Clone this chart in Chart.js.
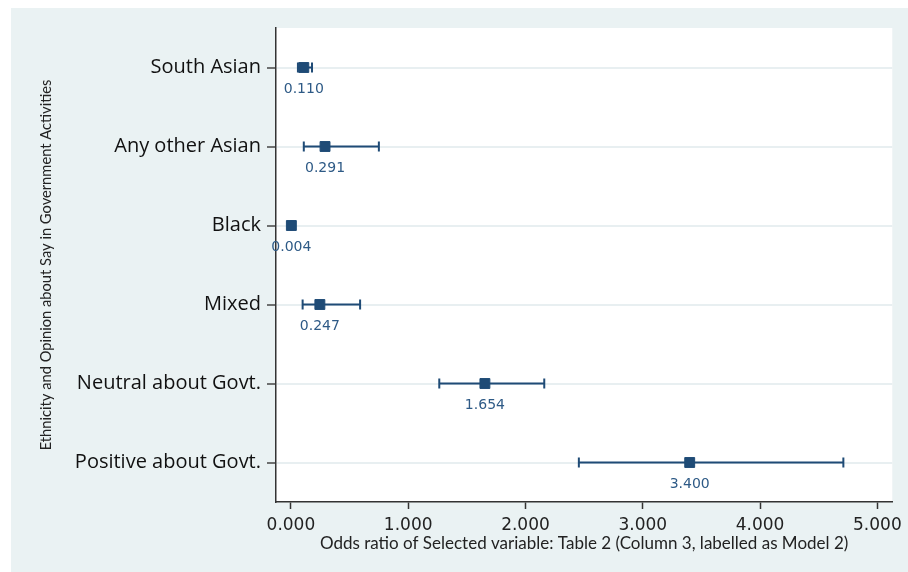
<!DOCTYPE html>
<html>
<head>
<meta charset="utf-8">
<script src="https://cdn.jsdelivr.net/npm/chart.js@4"></script>
<style>
  html, body { margin: 0; padding: 0; background: #ffffff; }
  #wrap { width: 908px; height: 572px; }
</style>
</head>
<body>
<div id="wrap"><canvas id="grafico" width="908" height="572"></canvas></div>
<script>
// Dados
const categorias = ['South Asian', 'Any other Asian', 'Black', 'Mixed', 'Neutral about Govt.', 'Positive about Govt.'];
const oddsRatio = [0.110, 0.291, 0.004, 0.247, 1.654, 3.400];
const icInferior = [0.060, 0.110, 0.001, 0.100, 1.265, 2.455];
const icSuperior = [0.180, 0.750, 0.015, 0.590, 2.160, 4.710];
const ticksX = [0, 1, 2, 3, 4, 5];

const corMarca = '#1f4b76';
const corTexto = '#2e5a86';

// Fundo cinza-azulado + area do grafico branca
const fundoPlugin = {
    id: 'fundo',
    beforeDraw(chart) {
        const c = chart.ctx;
        const a = chart.chartArea;
        c.save();
        c.fillStyle = '#eaf2f3';
        c.fillRect(11, 8, chart.width - 11, chart.height - 8);
        c.fillStyle = '#ffffff';
        c.fillRect(a.left, a.top, a.right - a.left, a.bottom - a.top);
        c.restore();
    }
};

// Rotulos de valor abaixo de cada marcador
const rotulosPlugin = {
    id: 'rotulos',
    afterDatasetsDraw(chart) {
        const c = chart.ctx;
        const sx = chart.scales.x;
        const sy = chart.scales.y;
        c.save();
        c.font = '14px "DejaVu Sans"';
        c.fillStyle = corTexto;
        c.textAlign = 'center';
        c.textBaseline = 'middle';
        oddsRatio.forEach((v, i) => {
            c.fillText(v.toFixed(3), sx.getPixelForValue(v), sy.getPixelForValue(i) + 22);
        });
        c.restore();
    }
};

const barrasErro = categorias.map((cat, i) => ({
    type: 'line',
    data: [{ x: icInferior[i], y: cat }, { x: icSuperior[i], y: cat }],
    borderColor: corMarca,
    borderWidth: 2,
    pointStyle: 'line',
    rotation: 90,
    pointRadius: 5,
    pointBorderWidth: 2,
    pointBorderColor: corMarca,
    pointHoverRadius: 5,
    order: 1
}));

new Chart(document.getElementById('grafico').getContext('2d'), {
    type: 'scatter',
    data: {
        datasets: [{
            data: categorias.map((cat, i) => ({ x: oddsRatio[i], y: cat })),
            pointStyle: 'rect',
            pointRadius: 7,
            pointBackgroundColor: corMarca,
            pointBorderColor: corMarca,
            pointBorderWidth: 1,
            order: 0
        }, ...barrasErro]
    },
    options: {
        responsive: false,
        animation: false,
        events: [],
        layout: { padding: { top: 28, right: 12, left: 0, bottom: 0 } },
        plugins: {
            legend: { display: false },
            tooltip: { enabled: false }
        },
        scales: {
            x: {
                type: 'linear',
                min: -0.127,
                max: 5.127,
                afterBuildTicks: (s) => { s.ticks = ticksX.map(v => ({ value: v })); },
                afterFit: (s) => { s.height = 70; },
                border: { color: '#333333', width: 1.5 },
                grid: { drawOnChartArea: false, drawTicks: true, tickLength: 7, tickColor: '#333333', tickWidth: 1.5 },
                ticks: {
                    padding: 6,
                    maxRotation: 0,
                    color: '#222222',
                    font: { family: '"DejaVu Sans"', size: 17 },
                    callback: (v) => Number(v).toFixed(3)
                },
                title: {
                    display: true,
                    text: 'Odds ratio of Selected variable: Table 2 (Column 3, labelled as Model 2)',
                    color: '#222222',
                    font: { family: 'Lato', size: 17 },
                    padding: { top: 0, bottom: 18 }
                }
            },
            y: {
                type: 'category',
                labels: categorias,
                offset: true,
                afterFit: (s) => { s.width = 276; },
                border: { color: '#333333', width: 1.5 },
                grid: { color: '#e8eff1', lineWidth: 2, tickLength: 9, tickColor: '#444444', tickWidth: 1.5 },
                ticks: {
                    padding: 6,
                    color: '#111111',
                    font: { family: '"Open Sans"', size: 20 }
                },
                title: {
                    display: true,
                    text: 'Ethnicity and Opinion about Say in Government Activities',
                    color: '#222222',
                    font: { family: 'Lato', size: 14.7 },
                    padding: { top: 37, bottom: 0 }
                }
            }
        }
    },
    plugins: [fundoPlugin, rotulosPlugin]
});
</script>
</body>
</html>
